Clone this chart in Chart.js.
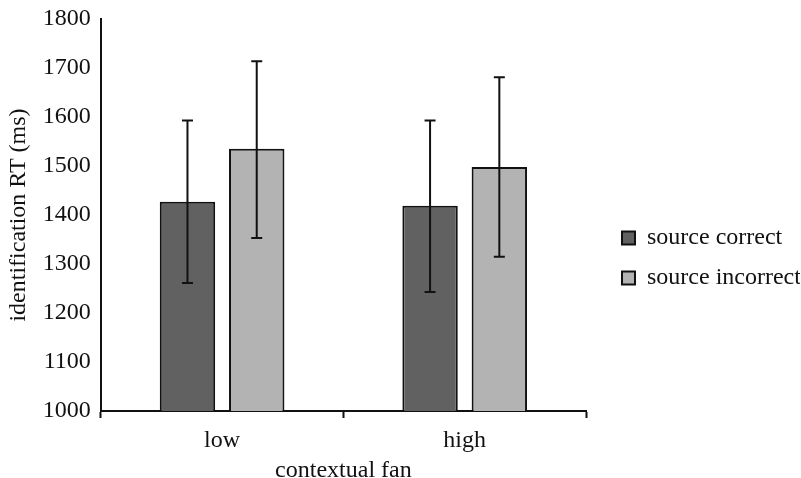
<!DOCTYPE html>
<html>
<head>
<meta charset="utf-8">
<script src="https://cdn.jsdelivr.net/npm/chart.js@4"></script>
<style>
  html, body { margin: 0; padding: 0; background: #fff; }
  #wrap { width: 801px; height: 478px; }
</style>
</head>
<body>
<div id="wrap"><canvas id="rtChart" width="801" height="478"></canvas></div>
<script>
const categories = ['low', 'high'];
const seriesNames = ['source correct', 'source incorrect'];
const correctRT = [1427, 1419];
const incorrectRT = [1535, 1498];
// error bar ends (lower, upper)
const correctLow = [1261, 1243];
const correctHigh = [1593, 1593];
const incorrectLow = [1353, 1315];
const incorrectHigh = [1714, 1681];
const yTicks = [1000, 1100, 1200, 1300, 1400, 1500, 1600, 1700, 1800];

const serif = 'Liberation Serif, Times New Roman, serif';
const fontSize = 24;

// draws the error bars using the chart's own scales
const errorBars = {
    id: 'errorBars',
    afterDatasetsDraw(chart) {
        const ctx = chart.ctx;
        const y = chart.scales.y;
        chart.data.datasets.forEach((ds, i) => {
            const meta = chart.getDatasetMeta(i);
            meta.data.forEach((bar, j) => {
                const top = y.getPixelForValue(ds.errHigh[j]);
                const bottom = y.getPixelForValue(ds.errLow[j]);
                const cap = 5.5;
                ctx.save();
                ctx.strokeStyle = '#111';
                ctx.lineWidth = 2;
                ctx.beginPath();
                ctx.moveTo(bar.x, top);
                ctx.lineTo(bar.x, bottom);
                ctx.moveTo(bar.x - cap, top);
                ctx.lineTo(bar.x + cap, top);
                ctx.moveTo(bar.x - cap, bottom);
                ctx.lineTo(bar.x + cap, bottom);
                ctx.stroke();
                ctx.restore();
            });
        });
    }
};

// put the legend beside the lower half of the plot
const legendShift = {
    id: 'legendShift',
    afterLayout(chart) {
        const lg = chart.legend;
        lg.top = 183;
        lg.bottom = 333;
        const dx = 606 - lg.left;
        lg.left += dx;
        lg.right += dx;
    }
};

const ctx = document.getElementById('rtChart').getContext('2d');
new Chart(ctx, {
    type: 'bar',
    data: {
        labels: categories,
        datasets: [
            {
                label: seriesNames[0],
                data: correctRT,
                errLow: correctLow,
                errHigh: correctHigh,
                backgroundColor: '#616161',
                borderColor: '#111',
                borderWidth: 2
            },
            {
                label: seriesNames[1],
                data: incorrectRT,
                errLow: incorrectLow,
                errHigh: incorrectHigh,
                backgroundColor: '#b3b3b3',
                borderColor: '#111',
                borderWidth: 2
            }
        ]
    },
    options: {
        responsive: false,
        animation: false,
        categoryPercentage: 0.571,
        barPercentage: 0.8,
        layout: { padding: { left: 4, right: 21, top: 19, bottom: -5 } },
        plugins: {
            tooltip: { enabled: false },
            legend: {
                position: 'right',
                labels: {
                    boxWidth: 13,
                    boxHeight: 13,
                    padding: 16,
                    color: '#111',
                    font: { family: serif, size: fontSize }
                }
            }
        },
        scales: {
            x: {
                offset: true,
                grid: {
                    offset: true,
                    drawOnChartArea: false,
                    drawTicks: true,
                    tickLength: 7,
                    tickWidth: 2,
                    tickColor: '#111'
                },
                border: { color: '#111', width: 2 },
                ticks: { color: '#111', padding: 11, font: { family: serif, size: fontSize, lineHeight: 1 } },
                title: {
                    display: true,
                    text: 'contextual fan',
                    color: '#111',
                    padding: { top: -5, bottom: 0 },
                    font: { family: serif, size: fontSize, lineHeight: 1 }
                }
            },
            y: {
                min: 1000,
                max: 1800,
                afterBuildTicks(axis) {
                    axis.ticks = yTicks.map(v => ({ value: v }));
                },
                grid: { drawOnChartArea: false, drawTicks: false },
                border: { color: '#111', width: 2 },
                ticks: {
                    color: '#111',
                    padding: 10,
                    font: { family: serif, size: fontSize, lineHeight: 0.5 },
                    callback: v => String(v)
                },
                title: {
                    display: true,
                    text: 'identification RT (ms)',
                    color: '#111',
                    padding: { top: 0, bottom: 0 },
                    font: { family: serif, size: fontSize }
                }
            }
        }
    },
    plugins: [errorBars, legendShift]
});
</script>
</body>
</html>
